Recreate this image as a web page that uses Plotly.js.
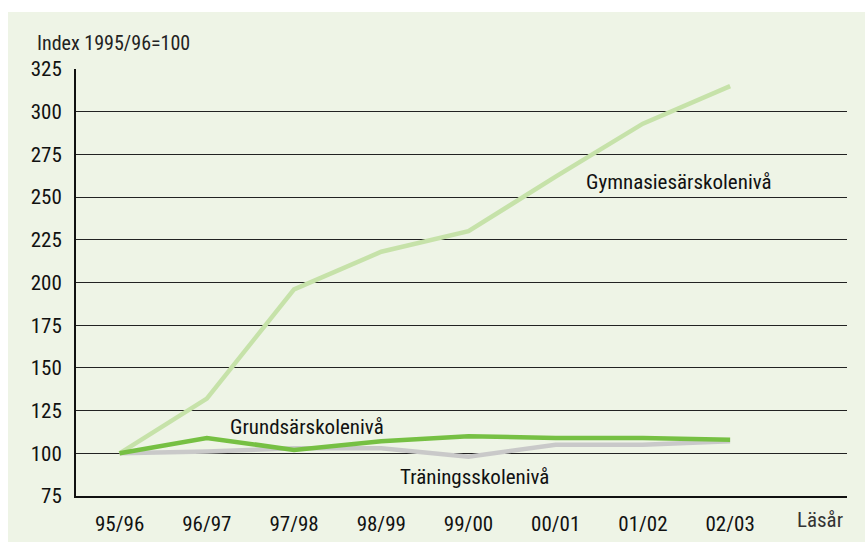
<!DOCTYPE html>
<html>
<head>
<meta charset="utf-8">
<script src="https://cdn.plot.ly/plotly-3.0.1.min.js"></script>
<style>html,body{margin:0;padding:0;background:#fff;}#chart{width:865px;height:542px;}</style>
</head>
<body>
<div id="chart"></div>
<script>
const years = ["95/96","96/97","97/98","98/99","99/00","00/01","01/02","02/03"];
const gymnasie = [100, 132, 196, 218, 230, 262, 293, 315];
const grund = [100, 109, 102, 107, 110, 109, 109, 108];
const traning = [100, 101, 103, 103, 98, 105, 105, 107];
const yTicks = [75,100,125,150,175,200,225,250,275,300,325];

const FONT = "'Liberation Sans Narrow', 'Arial Narrow', 'Roboto Condensed', 'Liberation Sans', sans-serif";
const xi = years.map((_, i) => i);

const traces = [
  {x: xi, y: traning, mode: 'lines', line: {color: '#c9c9c9', width: 4.5}, hoverinfo: 'skip'},
  {x: xi, y: gymnasie, mode: 'lines', line: {color: '#c6e2a9', width: 4.5}, hoverinfo: 'skip'},
  {x: xi, y: grund, mode: 'lines', line: {color: '#76c043', width: 4.5}, hoverinfo: 'skip'}
];

const layout = {
  width: 865, height: 542,
  margin: {l: 76, r: 18, t: 69, b: 46},
  paper_bgcolor: '#ffffff',
  plot_bgcolor: 'rgba(0,0,0,0)',
  showlegend: false,
  font: {family: FONT, size: 21, color: '#111'},
  xaxis: {
    range: [-0.5, 8.34], tickmode: 'array', tickvals: xi, ticktext: years,
    showgrid: false, zeroline: false, showline: true, linecolor: '#111', linewidth: 2,
    ticks: '', ticklabelstandoff: 8, tickfont: {family: FONT, size: 21, color: '#111'}
  },
  yaxis: {
    range: [75, 325], tickmode: 'array', tickvals: yTicks,
    showgrid: true, gridcolor: '#222', gridwidth: 1, zeroline: false,
    showline: true, linecolor: '#111', linewidth: 2,
    ticks: '', ticklabelstandoff: 8, tickfont: {family: FONT, size: 21, color: '#111'}
  },
  shapes: [
    {type: 'rect', xref: 'paper', yref: 'paper', x0: -68/771, x1: 1.03, y0: -0.12, y1: 1 + 57/427,
     fillcolor: '#eef4e6', line: {width: 0}, layer: 'below'}
  ],
  annotations: [
    {text: 'Index 1995/96=100', xref: 'paper', yref: 'paper', x: -41/771, y: 1 + 26/427,
     xanchor: 'left', yanchor: 'middle', showarrow: false, font: {family: FONT, size: 20, color: '#222'}},
    {text: 'Läsår', xref: 'x', yref: 'paper', x: 8.03, y: -24/427, xanchor: 'center', yanchor: 'middle',
     showarrow: false, font: {family: FONT, size: 21, color: '#333'}},
    {text: 'Gymnasiesärskolenivå', xref: 'x', yref: 'y', x: 6.41, y: 259, xanchor: 'center', yanchor: 'middle',
     showarrow: false, font: {family: FONT, size: 21, color: '#111'}},
    {text: 'Grundsärskolenivå', xref: 'x', yref: 'y', x: 2.15, y: 115.5, xanchor: 'center', yanchor: 'middle',
     showarrow: false, font: {family: FONT, size: 21, color: '#111'}},
    {text: 'Träningsskolenivå', xref: 'x', yref: 'y', x: 4.07, y: 86, xanchor: 'center', yanchor: 'middle',
     showarrow: false, font: {family: FONT, size: 21, color: '#111'}}
  ]
};

Plotly.newPlot('chart', traces, layout, {staticPlot: true, displayModeBar: false});
</script>
</body>
</html>
